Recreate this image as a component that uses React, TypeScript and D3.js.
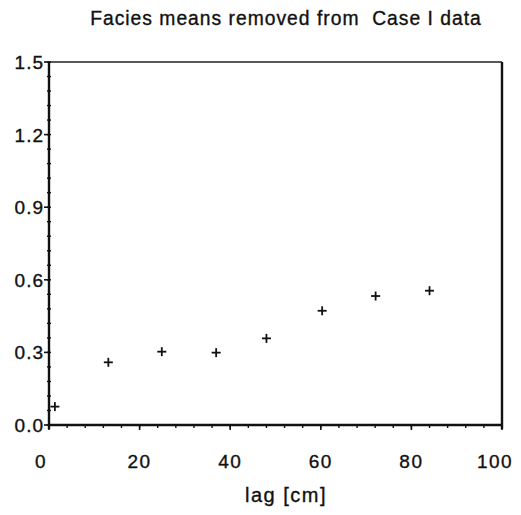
import React from "react";
import * as d3 from "d3";

const lags = [1.3, 13.1, 24.9, 36.9, 48.0, 60.3, 72.1, 84.0];
const gammas = [0.076, 0.259, 0.303, 0.299, 0.358, 0.472, 0.533, 0.555];
const xTicks = [0, 20, 40, 60, 80, 100];
const yTicks = [0.0, 0.3, 0.6, 0.9, 1.2, 1.5];
const title = "Facies means removed from  Case I data";
const xLabel = "lag [cm]";

const W = 521;
const H = 515;
const M = { left: 49, right: 502, top: 62, bottom: 425 };
const FONT = "'Liberation Sans', Arial, Helvetica, sans-serif";

export default function App() {
  const x = d3.scaleLinear().domain([0, 100]).range([M.left, M.right]);
  const y = d3.scaleLinear().domain([0, 1.5]).range([M.bottom, M.top]);
  const xMinor = d3.range(0, 100.001, 4);
  const yMinor = d3.range(0, 1.5001, 0.06);
  const textStroke = { stroke: "#111", strokeWidth: 0.35 };

  return (
    <svg
      width={W}
      height={H}
      style={{ position: "absolute", left: 0, top: 0, background: "#fff" }}
      fontFamily={FONT}
    >
      <rect x={0} y={0} width={W} height={H} fill="#fff" />
      <text
        x={286}
        y={25}
        textAnchor="middle"
        fontSize={19.3}
        letterSpacing={1}
        fill="#111"
        {...textStroke}
        style={{ whiteSpace: "pre" }}
      >
        {title}
      </text>
      {/* frame */}
      <line x1={M.left} x2={M.right} y1={M.top} y2={M.top} stroke="#222" strokeWidth={1.6} />
      <line x1={M.right} x2={M.right} y1={M.top} y2={M.bottom + 4} stroke="#111" strokeWidth={2.4} />
      <line x1={M.left} x2={M.right} y1={M.bottom} y2={M.bottom} stroke="#111" strokeWidth={2.4} />
      <line x1={M.left} x2={M.left} y1={M.top} y2={M.bottom + 4} stroke="#111" strokeWidth={2.4} />
      {/* x minor ticks */}
      {xMinor.map((v, i) => (
        <line key={"xm" + i} x1={x(v)} x2={x(v)} y1={M.bottom} y2={M.bottom + 3} stroke="#111" strokeWidth={1.4} />
      ))}
      {xTicks.map((v, i) => (
        <g key={"xt" + i}>
          <line x1={x(v)} x2={x(v)} y1={M.bottom} y2={M.bottom + 5} stroke="#111" strokeWidth={1.6} />
          <text
            x={x(v) - (v === 0 ? 8 : v === 100 ? 7 : 0)}
            y={468}
            textAnchor="middle"
            fontSize={19}
            letterSpacing={1.5}
            fill="#111"
            {...textStroke}
          >
            {v}
          </text>
        </g>
      ))}
      {/* y minor ticks */}
      {yMinor.map((v, i) => (
        <line key={"ym" + i} x1={M.left - 2} x2={M.left + 2} y1={y(v)} y2={y(v)} stroke="#111" strokeWidth={1.4} />
      ))}
      {yTicks.map((v, i) => (
        <g key={"yt" + i}>
          <line x1={M.left - 5} x2={M.left} y1={y(v)} y2={y(v)} stroke="#111" strokeWidth={1.6} />
          <text
            x={M.left - 5}
            y={y(v) + 7}
            textAnchor="end"
            fontSize={19}
            letterSpacing={1}
            fill="#111"
            {...textStroke}
          >
            {v.toFixed(1)}
          </text>
        </g>
      ))}
      {/* points */}
      {lags.map((l, i) => (
        <g key={"p" + i} transform={`translate(${x(l)},${y(gammas[i])})`} stroke="#111" strokeWidth={1.8}>
          <line x1={-4.5} x2={4.5} y1={0} y2={0} />
          <line x1={0} x2={0} y1={-4.5} y2={4.5} />
        </g>
      ))}
      <text x={286} y={502} textAnchor="middle" fontSize={20} letterSpacing={1.5} fill="#111" {...textStroke}>
        {xLabel}
      </text>
    </svg>
  );
}
